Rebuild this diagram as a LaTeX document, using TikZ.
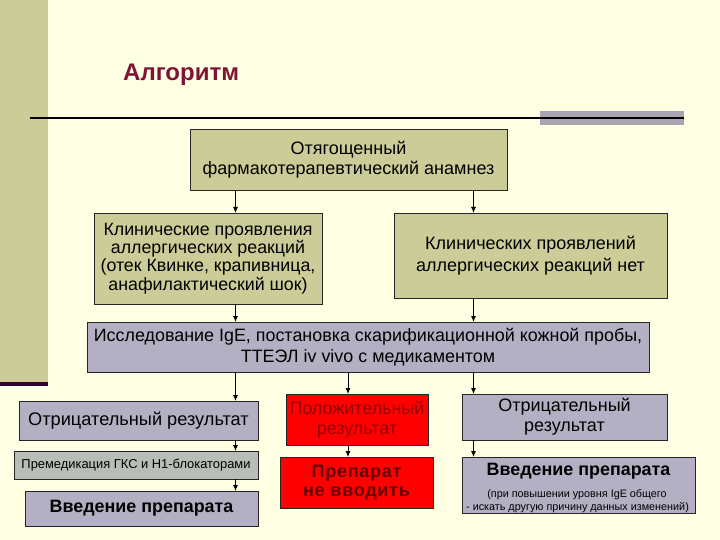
\documentclass[tikz,border=0pt]{standalone}
\usepackage{fontspec}
\setmainfont{Liberation Sans}
\usetikzlibrary{arrows.meta}
\definecolor{bg}{HTML}{FFFFE3}
\definecolor{khaki}{HTML}{CCCC99}
\definecolor{darkbar}{HTML}{330033}
\definecolor{titlecol}{HTML}{7F1434}
\definecolor{graybar}{HTML}{A8A4B2}
\definecolor{lav}{HTML}{B4B0C4}
\definecolor{greygreen}{HTML}{B8BEB6}
\definecolor{redbox}{HTML}{FF0000}
\definecolor{redtxt}{HTML}{990000}
\definecolor{redtxtb}{HTML}{660000}
\newcommand{\setfs}[2]{\fontsize{#1}{#2}\selectfont}
\begin{document}
\begin{tikzpicture}[x=1pt,y=-1pt,
  box/.style={draw=black!85, line width=0.9pt, inner sep=0pt, outer sep=0pt, align=center, text=black},
  plain/.style={inner sep=0pt, outer sep=0pt, align=center},
  arr/.style={draw=black, line width=0.8pt, -{Latex[length=6pt,width=5pt]}}]
\fill[bg] (0,0) rectangle (720,540);
\useasboundingbox (0,0) rectangle (720,540);
% left band
\fill[khaki] (0,0) rectangle (48,382);
\fill[darkbar] (0,382) rectangle (48,386);
% title
\node[anchor=base west, inner sep=0pt, text=titlecol, font=\bfseries\setfs{24}{28}] (title) at (123,81) {Алгоритм};
% rule
\fill[graybar] (540,111) rectangle (684,125);
\draw[line width=2pt, black] (30,118) -- (684,118);
% columns
\coordinate (cL) at (235.5,0);
\coordinate (cM) at (348,0);
\coordinate (cR) at (473.5,0);
% boxes
\node[box, fill=khaki, minimum width=317pt, minimum height=61pt, font=\setfs{18}{20}] (top) at (348.5,159.5)
  {Отягощенный\\фармакотерапевтический анамнез};
\node[box, fill=khaki, minimum width=228pt, minimum height=91pt, font=\setfs{17.8}{18.4}] (clin) at (208,258.5)
  {Клинические проявления\\аллергических реакций\\(отек Квинке, крапивница,\\анафилактический шок)};
\node[box, fill=khaki, minimum width=273pt, minimum height=85pt, font=\setfs{18}{21.7}] (noclin) at (530.5,255.5)
  {Клинических проявлений\\аллергических реакций нет};
\node[box, fill=lav, minimum width=562pt, minimum height=50pt, font=\setfs{17.9}{21}] (test) at (368,347)
  {Исследование IgE, постановка скарификационной кожной пробы,\\ТТЕЭЛ iv vivo с медикаментом};
\node[box, fill=lav, minimum width=239pt, minimum height=39pt, font=\setfs{18.2}{20}] (negL) at (138.5,420.5)
  {Отрицательный результат};
\node[box, fill=greygreen, minimum width=244pt, minimum height=28pt, font=\setfs{12.9}{15}] (premed) at (136,465)
  {Премедикация ГКС и Н1-блокаторами};
\node[box, fill=lav, minimum width=233pt, minimum height=35pt, font=\bfseries\setfs{17.9}{20}] (vvedL) at (141.5,508.5)
  {Введение препарата};
\node[box, fill=redbox, text=redtxt, minimum width=142pt, minimum height=51pt, font=\setfs{17.9}{20}] (pos) at (357,419.5)
  {Положительный\\результат};
\node[box, fill=redbox, text=redtxtb, minimum width=153pt, minimum height=51pt, font=\bfseries\setfs{18}{18.5}\addfontfeature{LetterSpace=4}] (nogo) at (356.5,482.5)
  {Препарат\\не вводить};
\node[box, fill=lav, minimum width=205pt, minimum height=46pt, font=\setfs{18}{20}] (negR) at (564.5,417)
  {Отрицательный\\результат};
\node[box, fill=lav, minimum width=233pt, minimum height=56pt] (vvedR) at (578.5,485) {};
\node[plain, anchor=base, font=\bfseries\setfs{17.9}{20}] (vvedRa) at (578.5,475) {Введение препарата};
\node[plain, anchor=base, font=\setfs{10.8}{13}] (vvedRb) at (577,497) {(при повышении уровня IgE общего};
\node[plain, anchor=base, font=\setfs{10.8}{13}] (vvedRc) at (577.5,510) {- искать другую причину данных изменений)};
% arrows
\draw[arr] (top.south -| cL) -- (clin.north -| cL);
\draw[arr] (top.south -| cR) -- (noclin.north -| cR);
\draw[arr] (clin.south -| cL) -- (test.north -| cL);
\draw[arr] (noclin.south -| cR) -- (test.north -| cR);
\draw[arr] (test.south -| cL) -- (negL.north -| cL);
\draw[arr] (test.south -| cM) -- (pos.north -| cM);
\draw[arr] (test.south -| cR) -- (negR.north -| cR);
\draw[arr] (negL.south -| cL) -- (premed.north -| cL);
\draw[arr] (premed.south -| cL) -- (vvedL.north -| cL);
\draw[arr] (pos.south -| cM) -- (nogo.north -| cM);
\draw[arr] (negR.south -| cR) -- (vvedR.north -| cR);
\end{tikzpicture}
\end{document}
